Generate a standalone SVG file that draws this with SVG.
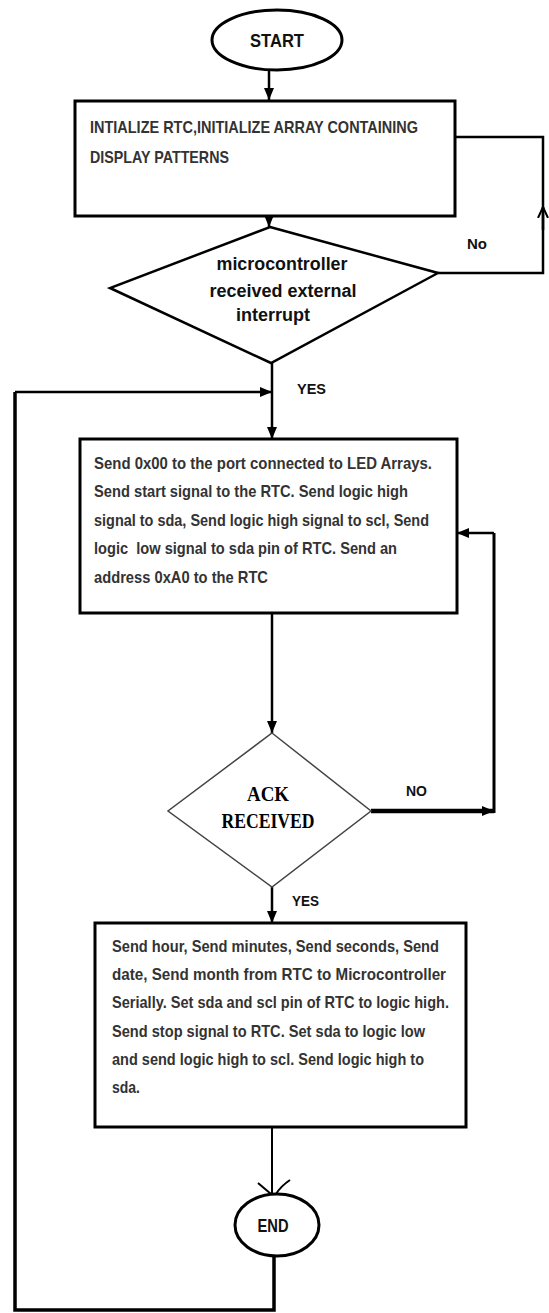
<svg xmlns="http://www.w3.org/2000/svg" width="549" height="1313" viewBox="0 0 549 1313">
<style>
.shape{fill:#fff;stroke:#000;stroke-width:3}
.conn{fill:none;stroke:#000;stroke-width:2.5}
.box{font-family:"Liberation Sans",Arial,sans-serif;font-size:17px;font-weight:bold;fill:#333}
.dec{font-family:"Liberation Sans",Arial,sans-serif;font-size:18px;font-weight:bold;fill:#111}
.lbl{font-family:"Liberation Sans",Arial,sans-serif;font-size:15px;font-weight:bold;fill:#111}
.ack{font-family:"Liberation Serif","Times New Roman",serif;font-size:21px;font-weight:bold;fill:#000}
.term{font-family:"Liberation Sans",Arial,sans-serif;font-size:19px;font-weight:bold;fill:#111}
</style>
<defs>
<marker id="ah" viewBox="0 0 12 10" refX="12" refY="5" markerWidth="12" markerHeight="10" markerUnits="userSpaceOnUse" orient="auto">
<path d="M0,0 L12,5 L0,10 z" fill="#000"/>
</marker>
<marker id="open" viewBox="0 0 12 12" refX="11" refY="6" markerWidth="12" markerHeight="12" markerUnits="userSpaceOnUse" orient="auto">
<path d="M0,1 L11,6 L0,11" fill="none" stroke="#000" stroke-width="2"/>
</marker>
</defs>
<rect width="549" height="1313" fill="#fff"/>

<g id="connectors">
<line class="conn" x1="269" y1="70" x2="269" y2="100" marker-end="url(#ah)"/>
<line class="conn" x1="269" y1="216" x2="269" y2="227" marker-end="url(#ah)"/>
<polyline class="conn" points="438,273 543,273 543,137 455,137"/>
<line class="conn" x1="543" y1="230" x2="543" y2="207" marker-end="url(#open)"/>
<line class="conn" x1="272" y1="363" x2="272" y2="439" marker-end="url(#ah)"/>
<polyline class="conn" style="stroke-width:3.5" points="274,1256 274,1310 15,1310 15,392"/>
<line class="conn" x1="15" y1="392" x2="272" y2="392" marker-end="url(#ah)"/>
<line class="conn" x1="272" y1="613" x2="272" y2="733" marker-end="url(#ah)"/>
<line class="conn" style="stroke-width:4.5" x1="371" y1="811" x2="494" y2="811" marker-end="url(#ah)"/>
<line class="conn" style="stroke-width:3" x1="494" y1="813" x2="494" y2="533"/>
<line class="conn" x1="494" y1="533" x2="457" y2="533" marker-end="url(#ah)"/>
<line class="conn" x1="272" y1="887" x2="272" y2="923" marker-end="url(#ah)"/>
<line class="conn" style="stroke-width:2" x1="272" y1="1127" x2="272" y2="1195"/>
<path class="conn" style="stroke-width:2" d="M258,1183 L271,1194 M290,1180 Q281,1186 276,1194"/>
</g>

<g id="start">
<ellipse class="shape" cx="277" cy="40" rx="65" ry="30"/>
<text class="term" x="277" y="47" text-anchor="middle" textLength="54" lengthAdjust="spacingAndGlyphs">START</text>
</g>

<g id="init">
<rect class="shape" x="75" y="101" width="380" height="115"/>
<text class="box" x="90" y="133" textLength="328" lengthAdjust="spacingAndGlyphs">INTIALIZE RTC,INITIALIZE ARRAY CONTAINING</text>
<text class="box" x="90" y="163" textLength="139" lengthAdjust="spacingAndGlyphs">DISPLAY PATTERNS</text>
</g>

<g id="interrupt">
<polygon class="shape" style="stroke-width:2.5" points="270,227 438,273 271,363 110,288"/>
<text class="dec" x="282" y="270" text-anchor="middle" textLength="131" lengthAdjust="spacingAndGlyphs">microcontroller</text>
<text class="dec" x="283" y="297" text-anchor="middle" textLength="147" lengthAdjust="spacingAndGlyphs">received external</text>
<text class="dec" x="273" y="321" text-anchor="middle" textLength="74" lengthAdjust="spacingAndGlyphs">interrupt</text>
<text class="lbl" x="467" y="249" textLength="20" lengthAdjust="spacingAndGlyphs">No</text>
<text class="lbl" x="297" y="394" textLength="29" lengthAdjust="spacingAndGlyphs">YES</text>
</g>

<g id="send-address">
<rect class="shape" x="80" y="439" width="377" height="174"/>
<text class="box" x="94" y="469" textLength="338" lengthAdjust="spacingAndGlyphs">Send 0x00 to the port connected to LED Arrays.</text>
<text class="box" x="94" y="497" textLength="314" lengthAdjust="spacingAndGlyphs">Send start signal to the RTC. Send logic high</text>
<text class="box" x="94" y="526" textLength="335" lengthAdjust="spacingAndGlyphs">signal to sda, Send logic high signal to scl, Send</text>
<text class="box" x="94" y="554" textLength="303" lengthAdjust="spacingAndGlyphs" xml:space="preserve">logic  low signal to sda pin of RTC. Send an</text>
<text class="box" x="94" y="583" textLength="174" lengthAdjust="spacingAndGlyphs">address 0xA0 to the RTC</text>
</g>

<g id="ack">
<polygon class="shape" style="stroke:#444;stroke-width:1.5" points="272,733 371,811 272,887 168,811"/>
<text class="ack" x="268" y="801" text-anchor="middle" textLength="42" lengthAdjust="spacingAndGlyphs">ACK</text>
<text class="ack" x="268" y="828" text-anchor="middle" textLength="93" lengthAdjust="spacingAndGlyphs">RECEIVED</text>
<text class="lbl" x="406" y="796" textLength="21" lengthAdjust="spacingAndGlyphs">NO</text>
<text class="lbl" x="292" y="906" textLength="27" lengthAdjust="spacingAndGlyphs">YES</text>
</g>

<g id="read-time">
<rect class="shape" x="95" y="923" width="371" height="204"/>
<text class="box" x="112" y="952" textLength="327" lengthAdjust="spacingAndGlyphs">Send hour, Send minutes, Send seconds, Send</text>
<text class="box" x="112" y="980" textLength="334" lengthAdjust="spacingAndGlyphs">date, Send month from RTC to Microcontroller</text>
<text class="box" x="112" y="1008" textLength="337" lengthAdjust="spacingAndGlyphs">Serially. Set sda and scl pin of RTC to logic high.</text>
<text class="box" x="112" y="1037" textLength="313" lengthAdjust="spacingAndGlyphs">Send stop signal to RTC. Set sda to logic low</text>
<text class="box" x="112" y="1065" textLength="312" lengthAdjust="spacingAndGlyphs">and send logic high to scl. Send logic high to</text>
<text class="box" x="112" y="1093" textLength="28" lengthAdjust="spacingAndGlyphs">sda.</text>
</g>

<g id="end">
<ellipse class="shape" cx="277" cy="1225" rx="42" ry="31"/>
<text class="term" x="273" y="1232" text-anchor="middle" textLength="31" lengthAdjust="spacingAndGlyphs">END</text>
</g>
</svg>
